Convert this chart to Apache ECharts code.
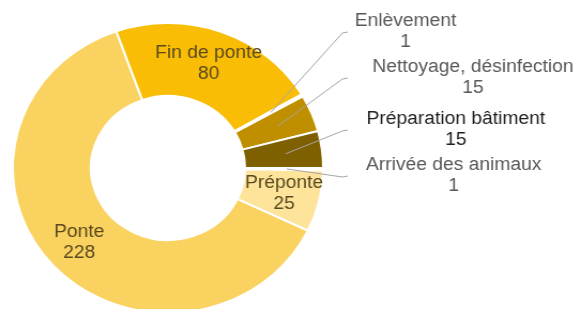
<!DOCTYPE html>
<html>
<head>
<meta charset="utf-8">
<script src="https://cdn.jsdelivr.net/npm/echarts@6/dist/echarts.min.js"></script>
<style>
  html, body { margin: 0; padding: 0; background: #fff; overflow: hidden; }
  /* the source picture is a bit wider than tall, so stretch the chart a little */
  #chart { width: 538px; height: 309px; transform: scaleX(1.07); transform-origin: 0 0; }
</style>
</head>
<body>
<div id="chart"></div>
<script>
// clockwise from 3 o'clock
const categories = ['Arrivée des animaux', 'Préponte', 'Ponte', 'Fin de ponte', 'Enlèvement', 'Nettoyage, désinfection', 'Préparation bâtiment']
const days = [1, 25, 228, 80, 1, 15, 15]
const colors = ['#FFF0C8', '#FEE49A', '#FAD25F', '#F9BD05', '#FFF0C8', '#BF8F00', '#7F6000']

// where the outside labels sit (chart px), keyed by data index
const labelSpots = {
  0: [424, 176],
  4: [379, 32],
  5: [442, 78],
  6: [426, 130]
}
const center = [157, 168]
const radius = [72, 145]
const lineEndX = 325

const chart = echarts.init(document.getElementById('chart'))

const labelFont = {
  fontFamily: 'Liberation Sans',
  fontSize: 18,
  lineHeight: 21,
  align: 'center'
}

// filled ring, inside labels only
const ringData = categories.map((name, i) => ({
  name: name,
  value: days[i],
  itemStyle: { color: colors[i] },
  label: { show: !labelSpots[i] }
}))

// same ring again, transparent, carrying the outside labels so their lines sit on top
const outsideData = categories.map((name, i) => ({
  name: name,
  value: days[i],
  label: {
    show: !!labelSpots[i],
    color: i === 6 ? '#1f1f1f' : '#595959'
  },
  labelLine: { show: !!labelSpots[i] }
}))

chart.setOption({
  backgroundColor: '#fff',
  animation: false,
  series: [
    {
      type: 'pie',
      z: 2,
      center: center,
      radius: radius,
      startAngle: 0,
      clockwise: true,
      avoidLabelOverlap: false,
      silent: true,
      itemStyle: {
        borderColor: '#fff',
        borderWidth: 2
      },
      label: Object.assign({
        position: 'inside',
        formatter: '{b}\n{c}',
        color: '#594a20'
      }, labelFont),
      labelLine: { show: false },
      data: ringData
    },
    {
      type: 'pie',
      z: 3,
      center: center,
      radius: radius,
      startAngle: 0,
      clockwise: true,
      avoidLabelOverlap: false,
      silent: true,
      itemStyle: {
        color: 'rgba(0,0,0,0)',
        borderWidth: 0
      },
      label: Object.assign({
        position: 'outside',
        formatter: '{b}\n{c}'
      }, labelFont),
      labelLine: {
        lineStyle: { color: '#a6a6a6', width: 1 }
      },
      labelLayout: function (params) {
        const spot = labelSpots[params.dataIndex]
        if (!spot || !params.labelLinePoints) {
          return {}
        }
        // start the leader line in the middle of the ring
        const p0 = params.labelLinePoints[0]
        const dx = p0[0] - center[0]
        const dy = p0[1] - center[1]
        const len = Math.sqrt(dx * dx + dy * dy)
        const midR = 111
        const start = [center[0] + dx / len * midR, center[1] + dy / len * midR]
        return {
          x: spot[0],
          y: spot[1],
          align: 'center',
          verticalAlign: 'middle',
          labelLinePoints: [start, [lineEndX - 5, spot[1] + 1], [lineEndX, spot[1]]]
        }
      },
      data: outsideData
    }
  ]
})
</script>
</body>
</html>
